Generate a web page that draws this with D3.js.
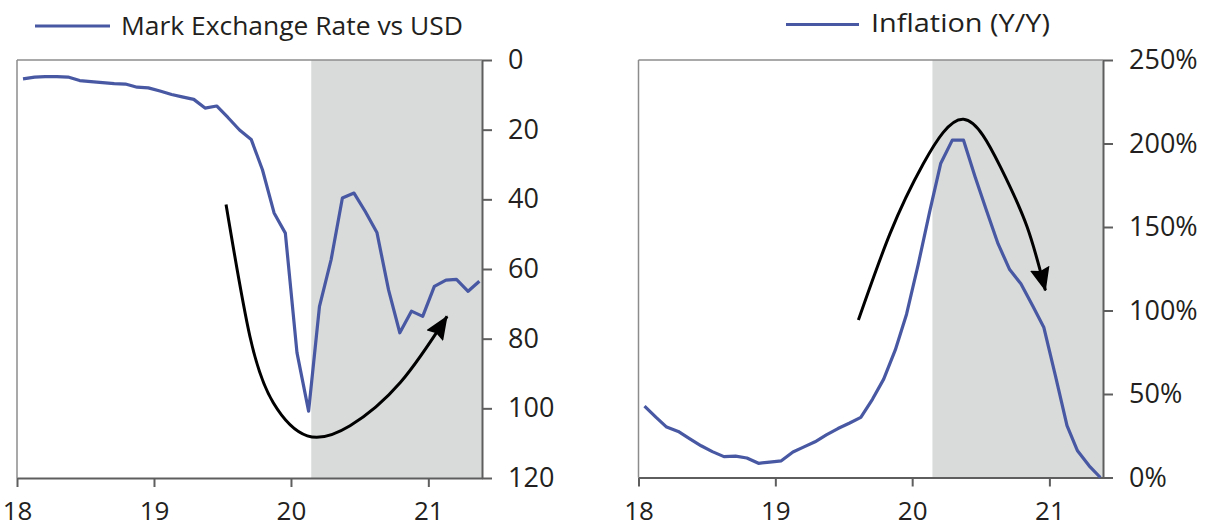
<!DOCTYPE html>
<html><head><meta charset="utf-8">
<script src="https://cdn.jsdelivr.net/npm/d3@7"></script>
<style>
html,body{margin:0;padding:0;background:#fff;}
svg text{font-family:"Open Sans",sans-serif;fill:#231f20;}
</style></head>
<body><svg id="c" width="1214" height="529"></svg>
<script>
// ---- data ----
const months = ["2018-01","2018-02","2018-03","2018-04","2018-05","2018-06","2018-07","2018-08","2018-09","2018-10","2018-11","2018-12",
"2019-01","2019-02","2019-03","2019-04","2019-05","2019-06","2019-07","2019-08","2019-09","2019-10","2019-11","2019-12",
"2020-01","2020-02","2020-03","2020-04","2020-05","2020-06","2020-07","2020-08","2020-09","2020-10","2020-11","2020-12",
"2021-01","2021-02","2021-03","2021-04","2021-05"];
const markRate = [5.4,4.9,4.8,4.8,4.9,5.9,6.2,6.5,6.8,6.9,7.8,8.0,
8.9,9.9,10.6,11.3,13.8,13.2,16.5,20.1,22.8,31.5,43.9,49.7,
84,100.8,70.7,57.3,39.6,38.2,43.5,49.5,66,78.3,72.1,73.6,
65,63.2,63.0,66.4,63.5];
const inflation = [42.8,36,30.2,27.6,23.3,19,15.5,12.5,12.8,11.7,8.5,9.2,
10,15.3,18.2,21.4,25.5,29.3,32.5,36,46.8,58.9,76.4,97.8,
127.5,159.5,188,202,202,180,160,140,124.5,116,103,90,
61,31,16,7,0];
const xTickLabels = ["18","19","20","21"];
const leftTicks = [0,20,40,60,80,100,120];
const rightTicks = [0,50,100,150,200,250];
const shadeStart = "2020-02-24";
const axisEnd = "2021-05-24";
const leftTitle = "Mark Exchange Rate vs USD";
const rightTitle = "Inflation (Y/Y)";
// annotation arrows: [decimal year, value]
const leftArrow = [[19.526,41.5],[19.70,79.3],[19.871,98.4],[20.119,107.9],[20.43,105],[20.796,92.6],[21.137,73.6]];
const rightArrow = [[19.607,94.3],[19.838,146],[20.082,188],[20.374,214.5],[20.643,186],[20.838,150],[20.971,112]];

// ---- helpers ----
const parseM = d3.timeParse("%Y-%m");
const parseD = d3.timeParse("%Y-%m-%d");
const monthDates = months.map(m => d3.timeDay.offset(parseM(m), 16));
const decToDate = d => { const y = 2000 + Math.floor(d); const s = new Date(y,0,1), e = new Date(y+1,0,1); return new Date(+s + (d - Math.floor(d))*(e - s)); };
const yearTicks = xTickLabels.map(s => new Date(2000 + (+s), 0, 1));

const svg = d3.select("#c");
const defs = svg.append("defs");
defs.append("marker").attr("id","ah").attr("markerUnits","userSpaceOnUse")
  .attr("viewBox","0 0 24 20").attr("refX",23).attr("refY",10)
  .attr("markerWidth",24).attr("markerHeight",20).attr("orient","auto")
  .append("path").attr("d","M0,0 L24,10 L0,20 L3,10 Z").attr("fill","#000");

const BLUE = "#4858a2", SHADE = "#d9dbdb", AX = "#5e5e5e";

function panel(cfg){
  const x = d3.scaleTime().domain([parseM("2018-01"), parseD(axisEnd)]).range([cfg.x0, cfg.x1]);
  const y = d3.scaleLinear().domain(cfg.yDomain).range(cfg.yRange);
  const top = 60, bot = cfg.bottom;
  const g = svg.append("g");
  g.append("rect").attr("x", x(parseD(shadeStart))).attr("y", top)
    .attr("width", cfg.x1 - x(parseD(shadeStart))).attr("height", bot - top).attr("fill", SHADE);
  g.append("line").attr("x1",cfg.x0).attr("x2",cfg.x1).attr("y1",top).attr("y2",top).attr("stroke","#8c8c8c").attr("stroke-width",1.5);
  g.append("line").attr("x1",cfg.x0).attr("x2",cfg.x0).attr("y1",top).attr("y2",bot).attr("stroke","#8c8c8c").attr("stroke-width",1.5);
  const xa = g.append("g").attr("transform",`translate(0,${bot})`)
    .call(d3.axisBottom(x).tickValues(yearTicks).tickFormat((d,i)=>xTickLabels[i]).tickSize(9).tickSizeOuter(0).tickPadding(15));
  xa.select(".domain").attr("stroke",AX).attr("stroke-width",2);
  xa.selectAll(".tick line").attr("stroke",AX).attr("stroke-width",2);
  xa.selectAll("text").attr("font-size",26).attr("font-family","Open Sans").attr("fill","#231f20");
  const ya = g.append("g").attr("transform",`translate(${cfg.x1},0)`)
    .call(d3.axisRight(y).tickValues(cfg.ticks).tickFormat(cfg.fmt).tickSize(10).tickSizeOuter(0).tickPadding(16));
  ya.select(".domain").attr("stroke",AX).attr("stroke-width",2);
  ya.selectAll(".tick line").attr("stroke",AX).attr("stroke-width",2);
  ya.selectAll("text").attr("font-size",27).attr("font-family","Open Sans").attr("fill","#231f20");
  g.append("path").datum(cfg.values).attr("fill","none").attr("stroke",BLUE).attr("stroke-width",3.2)
    .attr("stroke-linejoin","round")
    .attr("d", d3.line().x((d,i)=>x(monthDates[i])).y(d=>y(d)));
  g.append("path").datum(cfg.arrow).attr("fill","none").attr("stroke","#000").attr("stroke-width",3)
    .attr("marker-end","url(#ah)")
    .attr("d", d3.line().curve(d3.curveNatural).x(d=>x(decToDate(d[0]))).y(d=>y(d[1])));
  g.append("line").attr("x1",cfg.lx0).attr("x2",cfg.lx1).attr("y1",cfg.ly).attr("y2",cfg.ly)
    .attr("stroke",BLUE).attr("stroke-width",3);
  g.append("text").attr("x",cfg.tx).attr("y",cfg.ty).attr("font-size",26)
    .attr("textLength",cfg.tw).attr("lengthAdjust","spacingAndGlyphs").text(cfg.title);
}

panel({x0:17, x1:482, bottom:478, yDomain:[0,120], yRange:[60,478], ticks:leftTicks, fmt:d=>d,
  values:markRate, arrow:leftArrow, lx0:35, lx1:110, ly:26, tx:121, ty:35, tw:342, title:leftTitle});
panel({x0:638.5, x1:1103, bottom:477.5, yDomain:[0,250], yRange:[477.5,60], ticks:rightTicks, fmt:d=>d+"%",
  values:inflation, arrow:rightArrow, lx0:786, lx1:859, ly:24.5, tx:871, ty:32, tw:179, title:rightTitle});
</script></body></html>
